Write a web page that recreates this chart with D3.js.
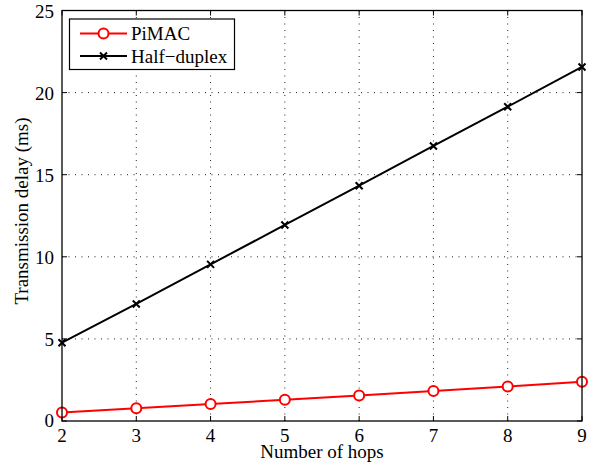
<!DOCTYPE html>
<html><head><meta charset="utf-8">
<script src="https://cdn.jsdelivr.net/npm/d3@7"></script>
<style>body{margin:0;background:#fff}svg{display:block}text{font-family:"Liberation Serif","Times New Roman",serif;fill:#000}</style>
</head><body><svg id="c" width="594" height="470"></svg>
<script>
const hops = [2,3,4,5,6,7,8,9];
const pimac = [0.52,0.77,1.04,1.29,1.56,1.82,2.10,2.39];
const halfDuplex = [4.77,7.13,9.54,11.94,14.33,16.75,19.14,21.56];
const xTicks = [2,3,4,5,6,7,8,9];
const yTicks = [0,5,10,15,20,25];
const seriesNames = ["PiMAC","Half\u2212duplex"];

const svg = d3.select("#c");
const L=62, R=582, T=10.5, B=421;
const x = d3.scaleLinear().domain([2,9]).range([L,R]);
const y = d3.scaleLinear().domain([0,25]).range([B,T]);

// grid
const g = svg.append("g");
g.selectAll(".gx").data(xTicks.slice(1,-1)).join("line")
 .attr("x1",d=>x(d)).attr("x2",d=>x(d)).attr("y1",B).attr("y2",T)
 .attr("stroke","#222").attr("stroke-width",1).attr("stroke-dasharray","1,5.5");
g.selectAll(".gy").data(yTicks.slice(1,-1)).join("line")
 .attr("y1",d=>y(d)).attr("y2",d=>y(d)).attr("x1",L).attr("x2",R)
 .attr("stroke","#222").attr("stroke-width",1).attr("stroke-dasharray","1,5.5");

// inward ticks on all sides
const tk=5;
xTicks.forEach(v=>{
  svg.append("line").attr("x1",x(v)).attr("x2",x(v)).attr("y1",B).attr("y2",B-tk).attr("stroke","#000");
  svg.append("line").attr("x1",x(v)).attr("x2",x(v)).attr("y1",T).attr("y2",T+tk).attr("stroke","#000");
});
yTicks.forEach(v=>{
  svg.append("line").attr("y1",y(v)).attr("y2",y(v)).attr("x1",L).attr("x2",L+tk).attr("stroke","#000");
  svg.append("line").attr("y1",y(v)).attr("y2",y(v)).attr("x1",R).attr("x2",R-tk).attr("stroke","#000");
});

// tick labels
svg.selectAll(".xl").data(xTicks).join("text")
 .attr("x",d=>x(d)).attr("y",442).attr("text-anchor","middle").attr("font-size",19).text(d=>d);
svg.selectAll(".yl").data(yTicks).join("text")
 .attr("x",54).attr("y",d=>y(d)+(d===0?6.3:7.3)).attr("text-anchor","end").attr("font-size",19).text(d=>d);

// axis labels
svg.append("text").attr("x",(L+R)/2).attr("y",457.5).attr("text-anchor","middle").attr("font-size",19).text("Number of hops");
svg.append("text").attr("transform",`translate(27.5,211) rotate(-90)`).attr("text-anchor","middle").attr("font-size",19).text("Transmission delay (ms)");

// lines
const line = d3.line().x((d,i)=>x(hops[i])).y(d=>y(d));
svg.append("path").datum(halfDuplex).attr("d",line).attr("fill","none").attr("stroke","#000").attr("stroke-width",2);
svg.append("path").datum(pimac).attr("d",line).attr("fill","none").attr("stroke","#ff0000").attr("stroke-width",2);

function cross(sel, cx, cy, s){
  sel.append("path").attr("d",`M${cx-s},${cy-s}L${cx+s},${cy+s}M${cx-s},${cy+s}L${cx+s},${cy-s}`)
   .attr("stroke","#000").attr("stroke-width",2).attr("fill","none");
}
halfDuplex.forEach((v,i)=>cross(svg,x(hops[i]),y(v),3.5));
svg.selectAll(".pm").data(pimac).join("circle")
 .attr("cx",(d,i)=>x(hops[i])).attr("cy",d=>y(d)).attr("r",5)
 .attr("fill","#fff").attr("stroke","#ff0000").attr("stroke-width",2);

// box
svg.append("rect").attr("x",L).attr("y",T).attr("width",R-L).attr("height",B-T)
 .attr("fill","none").attr("stroke","#000").attr("stroke-width",1.3);

// legend
const lg = svg.append("g");
lg.append("rect").attr("x",69.5).attr("y",19).attr("width",165).attr("height",50.5)
 .attr("fill","#fff").attr("stroke","#000").attr("stroke-width",1.2);
const rows=[33.5,56];
lg.append("line").attr("x1",80).attr("x2",127).attr("y1",rows[0]).attr("y2",rows[0]).attr("stroke","#ff0000").attr("stroke-width",2);
lg.append("circle").attr("cx",103.5).attr("cy",rows[0]).attr("r",5).attr("fill","#fff").attr("stroke","#ff0000").attr("stroke-width",2);
lg.append("line").attr("x1",80).attr("x2",127).attr("y1",rows[1]).attr("y2",rows[1]).attr("stroke","#000").attr("stroke-width",2);
cross(lg,103.5,rows[1],3.5);
lg.selectAll(".lt").data(seriesNames).join("text")
 .attr("x",131).attr("y",(d,i)=>rows[i]+6.5).attr("font-size",19).text(d=>d);
</script></body></html>
